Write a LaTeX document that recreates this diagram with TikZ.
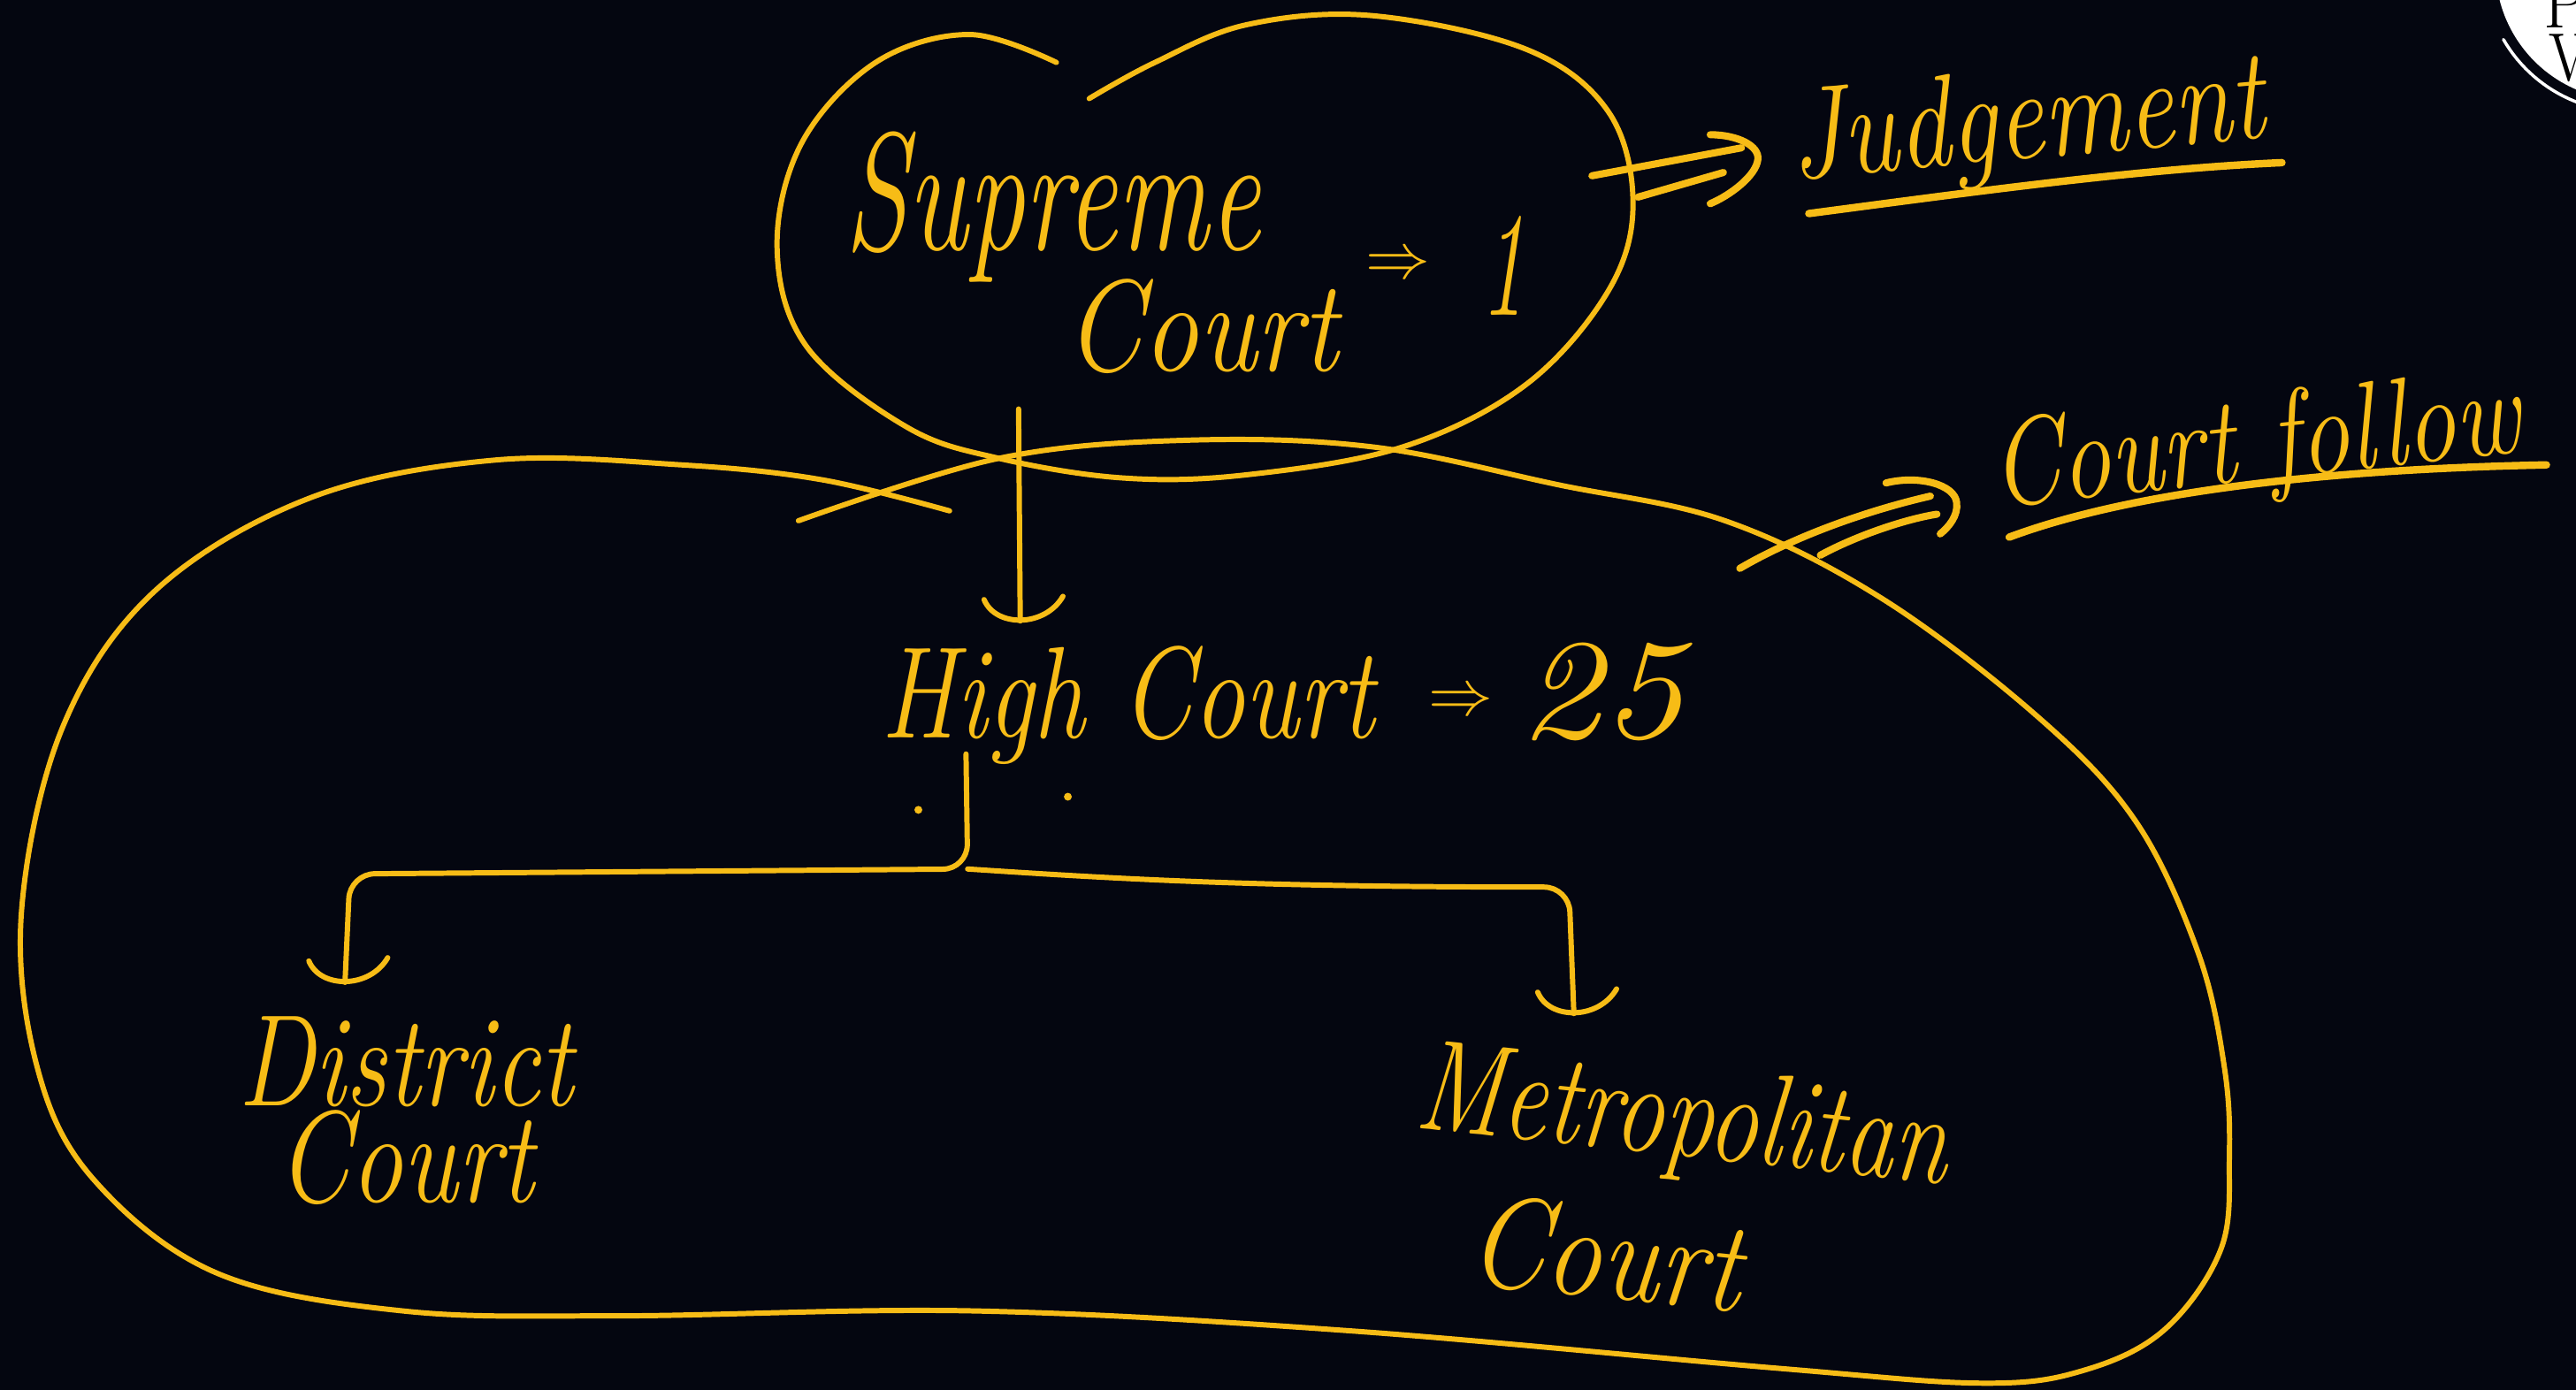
\documentclass[tikz,border=0pt]{standalone}
\usepackage{fontspec}
\usepackage{graphicx}
\definecolor{bg}{RGB}{4,6,16}
\definecolor{yel}{RGB}{247,188,22}
\newcommand{\hw}[2]{\scalebox{#1}[1]{#2}}
\tikzset{
  stroke/.style={draw=yel, line width=1.7pt},
  thick stroke/.style={draw=yel, line width=2.3pt},
  uline/.style={draw=yel, line width=2.4pt},
  hand/.style={text=yel, inner sep=0pt, font=\fontsize{#1}{#1}\selectfont\itshape},
  cup/.pic={\draw[stroke] (-22,-13) .. controls (-15,4) and (15,4) .. (26,-15);}
}
\begin{document}
\begin{tikzpicture}[x=0.018578cm, y=-0.018578cm, line cap=round, line join=round]
\fill[bg] (0,0) rectangle (1568,846);
\useasboundingbox (0,0) rectangle (1568,846);

% Supreme Court loop
\draw[stroke] plot[smooth, tension=0.6] coordinates {
 (643,38) (590,21) (533,38) (488,87) (473,151) (491,211) (552,260)
 (608,279) (684,291) (759,289) (854,272) (929,234) (979,177) (994,124)
 (979,68) (929,30) (835,9.5) (759,15) (703,38) (663,60)};

% big enclosing blob
\draw[stroke] plot[smooth, tension=0.6] coordinates {
 (578,311) (500,292) (415,283) (302,280) (189,303) (94,360) (38,443)
 (13,556) (23,651) (57,718) (132,775) (245,798) (378,801) (592,798)
 (820,810) (1083,833) (1207,842) (1269,834) (1318,809) (1352,760)
 (1357,705) (1354,650) (1338,580) (1300,500) (1240,436) (1145,364)
 (1050,317) (948,295) (835,272) (722,268) (608,279) (486,317)};

% double arrow to Judgement
\coordinate (ja1) at (969,107);
\coordinate (ja2) at (1060,90);
\coordinate (jb1) at (997,120);
\coordinate (jb2) at (1049,105);
\coordinate (jh1) at (1041,82);
\coordinate (jt) at (1070,97);
\coordinate (jh2) at (1041,124);
\draw[thick stroke] (ja1) -- (ja2);
\draw[thick stroke] (jb1) -- (jb2);
\draw[thick stroke] (jh1) .. controls (1058,82) and (1071,89) .. (jt) .. controls (1069,107) and (1053,119) .. (jh2);

% double arrow to Court follow
\coordinate (ca1) at (1059,346);
\coordinate (ca2) at (1175,302);
\coordinate (cb1) at (1108,338);
\coordinate (cb2) at (1179,313);
\coordinate (ch1) at (1148,294);
\coordinate (ct) at (1191,306);
\coordinate (ch2) at (1181,325);
\draw[thick stroke] (ca1) .. controls (1095,325) and (1140,310) .. (ca2);
\draw[thick stroke] (cb1) .. controls (1130,326) and (1160,316) .. (cb2);
\draw[thick stroke] (ch1) .. controls (1168,289) and (1190,295) .. (ct) .. controls (1192,314) and (1186,321) .. (ch2);

% Supreme -> High
\coordinate (s1) at (620,249);
\coordinate (s2) at (621,378);
\draw[stroke] (s1) -- (s2);
\pic at (s2) {cup};

% High -> District / Metropolitan
\coordinate (h1) at (588,459);
\coordinate (h2) at (589,529);
\coordinate (l1) at (213,532);
\coordinate (l2) at (210,598);
\coordinate (r1) at (955,540);
\coordinate (r2) at (958,617);
\draw[stroke, rounded corners=8] (h1) -- (h2) -- (l1) -- (l2);
\draw[stroke, rounded corners=8] (h2) .. controls (680,535) and (760,540) .. (r1) -- (r2);
\pic at (l2) {cup};
\pic at (r2) {cup};
\fill[yel] (559,493) circle (2.4);
\fill[yel] (650,485) circle (2.4);

% underlines
\draw[uline] (1101,130) .. controls (1200,117) and (1300,103) .. (1389,99);
\draw[uline] (1223,327) .. controls (1290,302) and (1400,286) .. (1550,283);

% texts
\node[hand=54, anchor=base west] (sup) at (514,152) {\hw{.68}{Supreme}};
\node[hand=42, anchor=base west] (supc) at (648,226) {\hw{.85}{Court}};
\node[hand=20] (supar) at (851,162) {$\Rightarrow$};
\node[hand=48, anchor=base west] (supn) at (901,192) {\hw{.6}{1}};
\node[hand=42, anchor=base west, rotate=5] (judg) at (1091,109) {\hw{.8}{Judgement}};
\node[hand=40, anchor=base west, rotate=6] (cf) at (1214,309) {\hw{.8}{Court follow}};
\node[hand=42, anchor=base west] (hc) at (536,449) {\hw{.79}{High Court}};
\node[hand=20] (hcar) at (889,428) {$\Rightarrow$};
\node[hand=46, anchor=base west] (hcn) at (924,449) {\hw{1.15}{25}};
\node[text=yel, inner sep=0pt, align=center, font=\fontsize{42}{29.5}\selectfont\itshape] (dc) at (247,676)
  {\hw{.79}{District}\\\hw{.8}{Court}};
\node[text=yel, inner sep=0pt, align=center, rotate=-6, font=\fontsize{42}{48}\selectfont\itshape] (mc) at (1020,722)
  {\hw{.76}{Metropolitan}\\\hw{.85}{Court}\hspace*{40pt}};

% corner logo
\fill[white] (1600,-20) circle (81);
\draw[white, line width=1pt] plot[domain=105:150, samples=20] ({1600+88*cos(\x)}, {-20+88*sin(\x)});
\node[text=black, inner sep=0pt, anchor=base west, font=\fontsize{22}{22}\selectfont] (lp) at (1548,17) {P};
\node[text=black, inner sep=0pt, anchor=base west, font=\fontsize{22}{22}\selectfont] (lw) at (1551,49) {W};
\end{tikzpicture}
\end{document}
